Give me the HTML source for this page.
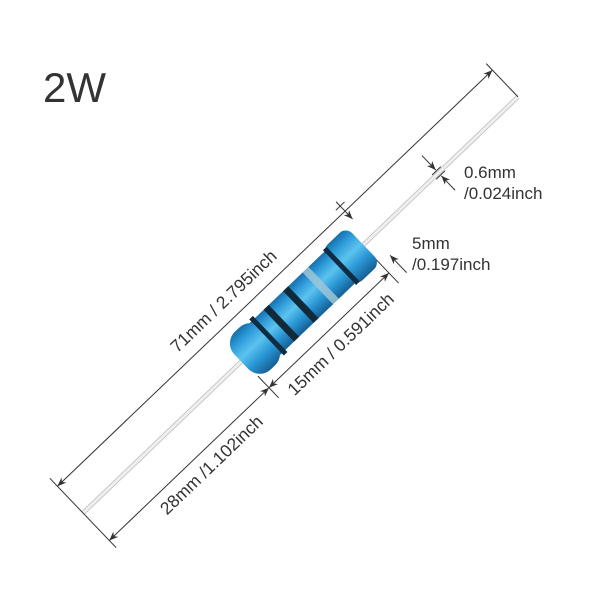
<!DOCTYPE html>
<html><head><meta charset="utf-8"><style>
html,body{margin:0;padding:0;background:#fff;width:600px;height:600px;overflow:hidden}
svg text{font-family:"Liberation Sans",sans-serif;fill:#333}
</style></head><body>
<svg width="600" height="600" viewBox="0 0 600 600" xmlns="http://www.w3.org/2000/svg">
<defs>
<linearGradient id="g" x1="0" y1="0" x2="0" y2="1">
<stop offset="0" stop-color="#1670ad"/>
<stop offset="0.2" stop-color="#2e9bd9"/>
<stop offset="0.45" stop-color="#5cc3ef"/>
<stop offset="0.7" stop-color="#2a98d6"/>
<stop offset="1" stop-color="#155f95"/>
</linearGradient>
<marker id="a" viewBox="0 0 10 10" refX="10" refY="5" markerWidth="9" markerHeight="9" orient="auto-start-reverse" markerUnits="userSpaceOnUse">
<path d="M0,1 L10,5 L0,9 L3,5 Z" fill="#333"/>
</marker>
</defs>
<text x="43" y="102" font-size="42">2W</text>
<g transform="translate(83,513) rotate(-43.73)">
<line x1="0" y1="-1.8" x2="602" y2="-1.8" stroke="#c4c4c4" stroke-width="1"/>
<line x1="0" y1="1.8" x2="602" y2="1.8" stroke="#c4c4c4" stroke-width="1"/>
<line x1="0" y1="0" x2="602" y2="0" stroke="#eee" stroke-width="2"/>
<g stroke="#333" stroke-width="1" fill="none">
<line x1="0" y1="-48" x2="0" y2="48"/>
<line x1="602" y1="-46" x2="602" y2="0"/>
<line x1="221" y1="22" x2="221" y2="52"/>
<line x1="387" y1="14" x2="387" y2="52"/>
<line x1="0" y1="-37" x2="602" y2="-37" marker-start="url(#a)" marker-end="url(#a)"/>
<line x1="0" y1="38" x2="221" y2="38" marker-start="url(#a)" marker-end="url(#a)"/>
<line x1="221" y1="38" x2="387" y2="38" marker-start="url(#a)" marker-end="url(#a)"/>
<line x1="398" y1="-50" x2="398" y2="-26" marker-end="url(#a)"/>
<line x1="404" y1="-44" x2="392" y2="-44"/>
<line x1="400" y1="50" x2="400" y2="26" marker-end="url(#a)"/>
<line x1="492" y1="-24" x2="492" y2="-4" marker-end="url(#a)"/>
<line x1="492" y1="24" x2="492" y2="4" marker-end="url(#a)"/>
<line x1="486" y1="-3" x2="498" y2="-3"/>
<line x1="486" y1="3" x2="498" y2="3"/>
</g>
<rect x="250" y="-22" width="112" height="44" fill="url(#g)"/>
<rect x="219" y="-26" width="38" height="52" rx="16" fill="url(#g)"/>
<rect x="354" y="-25" width="34" height="50" rx="9" fill="url(#g)"/>
<rect x="254" y="-25" width="5" height="50" fill="#0f2c40"/>
<rect x="271" y="-22" width="7" height="44" fill="#102a3a"/>
<rect x="298" y="-22" width="7" height="44" fill="#102a3a"/>
<rect x="325" y="-22" width="8" height="44" fill="#9fc6d6" opacity="0.85"/>
<rect x="355" y="-24" width="5" height="48" fill="#0f2c40"/>
<text x="248" y="-50" font-size="17.5" text-anchor="middle">71mm / 2.795inch</text>
<text x="126" y="60" font-size="17.5" text-anchor="middle">28mm /1.102inch</text>
<text x="303" y="62" font-size="17.5" text-anchor="middle">15mm / 0.591inch</text>
</g>
<text x="464" y="178" font-size="17">0.6mm</text>
<text x="464" y="199" font-size="17">/0.024inch</text>
<text x="412" y="249" font-size="17">5mm</text>
<text x="412" y="270" font-size="17">/0.197inch</text>
</svg>
</body></html>
